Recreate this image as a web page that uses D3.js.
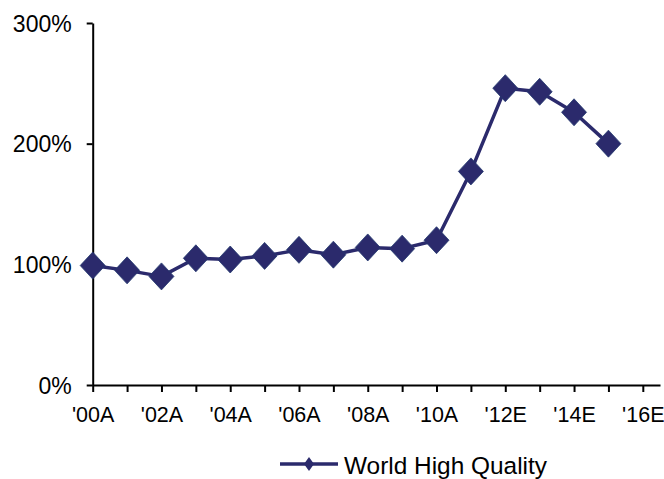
<!DOCTYPE html>
<html>
<head>
<meta charset="utf-8">
<script src="https://cdn.jsdelivr.net/npm/d3@7"></script>
<style>
  html, body { margin: 0; padding: 0; background: #fff; }
  svg { display: block; }
  text { font-family: "Liberation Sans", Arial, sans-serif; fill: #000; }
</style>
</head>
<body>
<svg id="chart" width="664" height="479"></svg>
<script>
// Years plotted and the index value for each (1.0 = 100%)
const years = [2000, 2001, 2002, 2003, 2004, 2005, 2006, 2007, 2008, 2009, 2010, 2011, 2012, 2013, 2014, 2015];
const worldHighQuality = [0.99, 0.95, 0.90, 1.05, 1.04, 1.07, 1.12, 1.08, 1.14, 1.13, 1.20, 1.77, 2.46, 2.43, 2.26, 2.00];
const seriesName = "World High Quality";

// Axis ticks
const xTickYears = [2000, 2001, 2002, 2003, 2004, 2005, 2006, 2007, 2008, 2009, 2010, 2011, 2012, 2013, 2014, 2015, 2016];
const xTickLabels = ["'00A", "", "'02A", "", "'04A", "", "'06A", "", "'08A", "", "'10A", "", "'12E", "", "'14E", "", "'16E"];
const yTicks = [0, 1, 2, 3];
const yTickLabels = ["0%", "100%", "200%", "300%"];

const navy = "#2b2a6c";
const svg = d3.select("#chart");

const x = d3.scaleLinear().domain([2000, 2016.5]).range([92.7, 660]);
const y = d3.scaleLinear().domain([0, 3]).range([385, 23]);

// Y axis
const yAxis = svg.append("g").attr("transform", "translate(92.7,0)")
  .call(d3.axisLeft(y).tickValues(yTicks).tickSize(6).tickSizeOuter(0)
    .tickFormat((d, i) => yTickLabels[i]));
yAxis.select(".domain").attr("stroke", "#000").attr("stroke-width", 2);
yAxis.selectAll(".tick line").attr("stroke", "#000").attr("stroke-width", 2);
yAxis.selectAll(".tick text")
  .attr("x", -21).attr("dy", "0.35em")
  .style("font-size", "23px").style("font-family", "'Liberation Sans', Arial, sans-serif")
  .attr("fill", "#000");

// X axis
const xAxis = svg.append("g").attr("transform", "translate(0,385)")
  .call(d3.axisBottom(x).tickValues(xTickYears).tickSize(7).tickSizeOuter(0)
    .tickFormat((d, i) => xTickLabels[i]));
xAxis.select(".domain").attr("stroke", "#000").attr("stroke-width", 2);
xAxis.selectAll(".tick line").attr("stroke", "#000").attr("stroke-width", 2);
xAxis.selectAll(".tick text")
  .attr("y", 36.7).attr("dy", 0)
  .style("font-size", "21.5px").style("font-family", "'Liberation Sans', Arial, sans-serif")
  .attr("fill", "#000");

// Series line
const data = years.map((yr, i) => ({ yr, v: worldHighQuality[i] }));
svg.append("path")
  .datum(data)
  .attr("fill", "none")
  .attr("stroke", navy)
  .attr("stroke-width", 3.5)
  .attr("stroke-linejoin", "round")
  .attr("d", d3.line().x(d => x(d.yr)).y(d => y(d.v)));

// Diamond markers
const diamond = (w, h) => `M0,${-h}L${w},0L0,${h}L${-w},0Z`;
svg.append("g").selectAll("path")
  .data(data)
  .join("path")
  .attr("transform", d => `translate(${x(d.yr)},${y(d.v)})`)
  .attr("d", diamond(12.5, 13.5))
  .attr("fill", navy)
  .attr("stroke", "#233a6e")
  .attr("stroke-width", 0.8);

// Legend
const legend = svg.append("g");
legend.append("line")
  .attr("x1", 280).attr("x2", 338).attr("y1", 464).attr("y2", 464)
  .attr("stroke", navy).attr("stroke-width", 3.5);
legend.append("path")
  .attr("transform", "translate(309,464)")
  .attr("d", diamond(5, 7))
  .attr("fill", navy);
legend.append("text")
  .attr("x", 344).attr("y", 473.5)
  .attr("textLength", 203).attr("lengthAdjust", "spacingAndGlyphs")
  .style("font-size", "24.5px")
  .text(seriesName);
</script>
</body>
</html>
